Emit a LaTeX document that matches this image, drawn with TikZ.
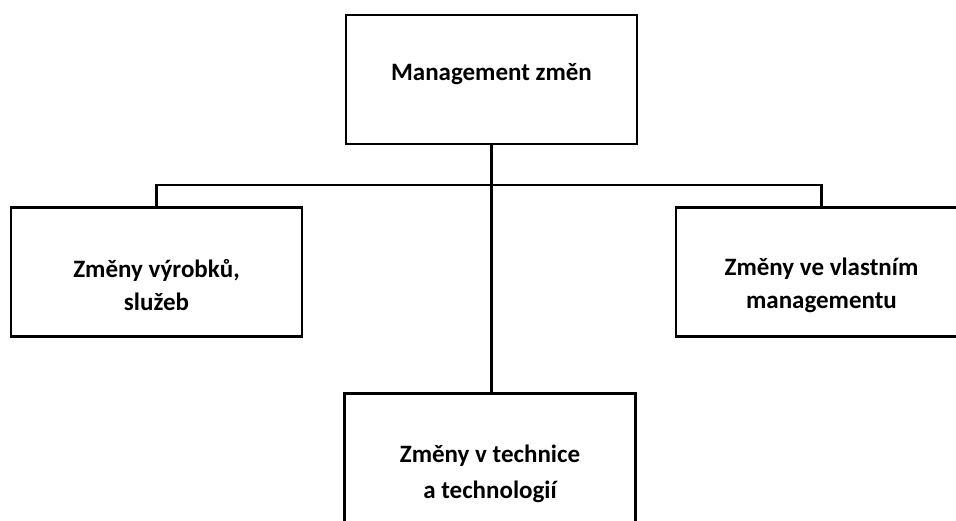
\documentclass[tikz,border=0pt]{standalone}
\usepackage{fontspec}
\setmainfont{Carlito}
\usepackage{tikz}
\usetikzlibrary{positioning,calc}

\begin{document}
\begin{tikzpicture}[
    x=1pt, y=-1pt,
    box/.style={draw, line width=2.2pt, minimum width=291pt, minimum height=129pt, inner sep=0pt},
    lbl/.style={align=center, inner sep=0pt, font=\bfseries\fontsize{25}{33}\selectfont},
    link/.style={line width=2.6pt},
]
    \clip (0,0) rectangle (956,520);
    \fill[white] (0,0) rectangle (956,520);

    % boxes
    \node[box] (top) at (491.5,79.5) {};
    \node[box] (lft) at (156.5,272) {};
    \node[box] (rgt) at (821.5,272) {};
    \node[box, minimum height=155pt] (bot) at (490,471) {};

    % texts
    \node[lbl, anchor=base] (ttop) at (491.5,80) {Management změn};
    \node[lbl] (tlft) at (156.5,285) {Změny výrobků,\\služeb};
    \node[lbl] (trgt) at (821.5,285) {Změny ve vlastním\\managementu};
    \node[lbl] (tbot) at (490,474) {Změny v technice\\[3pt]a technologií};

    % connectors
    \coordinate (bus) at (491,185);
    \draw[link] (top.south) -- (top.south |- bot.north);
    \draw[link] (lft.north) -- (lft.north |- bus) -- (rgt.north |- bus) -- (rgt.north);
\end{tikzpicture}
\end{document}
